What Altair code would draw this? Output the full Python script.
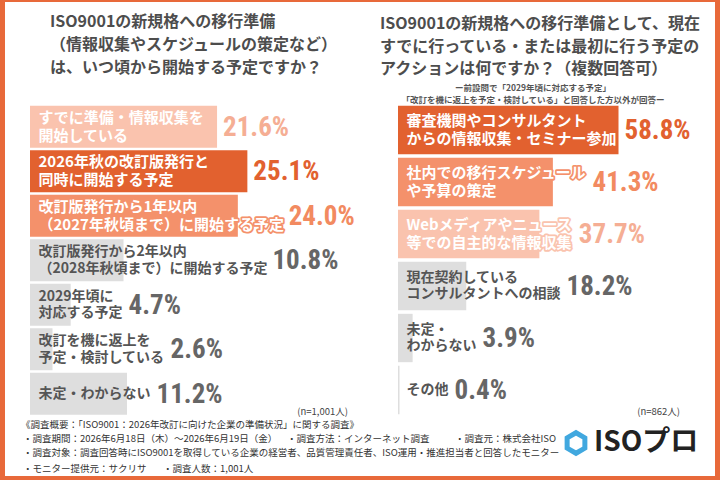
import altair as alt
import pandas as pd

# ---- data -------------------------------------------------------------
q1_labels = [
    "すでに準備・情報収集を\n開始している",
    "2026年秋の改訂版発行と\n同時に開始する予定",
    "改訂版発行から1年以内\n（2027年秋頃まで）に開始する予定",
    "改訂版発行から2年以内\n（2028年秋頃まで）に開始する予定",
    "2029年頃に\n対応する予定",
    "改訂を機に返上を\n予定・検討している",
    "未定・わからない",
]
q1_values = [21.6, 25.1, 24.0, 10.8, 4.7, 2.6, 11.2]

q2_labels = [
    "審査機関やコンサルタント\nからの情報収集・セミナー参加",
    "社内での移行スケジュール\nや予算の策定",
    "Webメディアやニュース\n等での自主的な情報収集",
    "現在契約している\nコンサルタントへの相談",
    "未定・\nわからない",
    "その他",
]
q2_values = [58.8, 41.3, 37.7, 18.2, 3.9, 0.4]

q1_title = "ISO9001の新規格への移行準備\n（情報収集やスケジュールの策定など）\nは、いつ頃から開始する予定ですか？"
q2_title = "ISO9001の新規格への移行準備として、現在\nすでに行っている・または最初に行う予定の\nアクションは何ですか？（複数回答可）"
q2_note = "ー前設問で「2029年頃に対応する予定」\n「改訂を機に返上を予定・検討している」と回答した方以外が回答ー"
q1_n = "(n=1,001人)"
q2_n = "(n=862人)"

footer_rows = [
    ("《調査概要：「ISO9001：2026年改訂に向けた企業の準備状況」に関する調査》", 21, 425),
    ("・調査期間：2026年6月18日（木）～2026年6月19日（金）", 23, 439),
    ("・調査方法：インターネット調査", 287, 439),
    ("・調査元：株式会社ISO", 455, 439),
    ("・調査対象：調査回答時にISO9001を取得している企業の経営者、品質管理責任者、ISO運用・推進担当者と回答したモニター", 23, 453),
    ("・モニター提供元：サクリサ", 23, 469),
    ("・調査人数：1,001人", 163, 469),
]
logo_text = "ISOプロ"

# ---- styling ----------------------------------------------------------
FRAME = "#E8693A"
BAR_FILLS = ["#E2612F", "#F4916B", "#FAC3AE"]
VAL_COLORS = ["#E2612F", "#F28A60", "#F5AE94"]
GRAY_BAR = "#DEDEDE"
GRAY_TEXT = "#555555"
GRAY_VAL = "#666666"
JP = "Noto Sans CJK JP"
NUM = "'Roboto Condensed', 'DejaVu Sans Condensed', 'Liberation Sans Narrow', Roboto, sans-serif"
TOP_SIZE, TOP_LH = 15, 18
REST_SIZE, REST_LH = 14, 16.5


def em_width(ch):
    if ord(ch) < 128:
        if ch.isdigit():
            return 0.57
        if ch == "W":
            return 0.95
        if ch.isupper():
            return 0.65
        if ch.islower():
            return 0.57
        return 0.35
    return 1.0


def text_width(s, size):
    return max(sum(em_width(c) for c in line) for line in s.split("\n")) * size


def panel_tables(labels, values, ppu, pad):
    order = sorted(range(len(values)), key=lambda i: -values[i])
    rank = {i: r for r, i in enumerate(order)}
    rows, lines = [], []
    for i, (lab, v) in enumerate(zip(labels, values)):
        top = rank[i] < 3
        fs = TOP_SIZE if top else REST_SIZE
        fill = BAR_FILLS[rank[i]] if top else GRAY_BAR
        # value label sits after whichever ends later: the bar or its caption
        end_px = max(v * ppu, pad + text_width(lab, fs)) + 6
        rows.append({
            "label": lab,
            "value": v,
            "pct": f"{v:.1f}%",
            "vcolor": VAL_COLORS[rank[i]] if top else GRAY_VAL,
            "fill": fill,
            "vpos": end_px / ppu,
        })
        parts = lab.split("\n")
        for j, part in enumerate(parts):
            lines.append({"label": lab, "line": part, "n": len(parts), "j": j,
                          "top": top, "fill": fill})
    return pd.DataFrame(rows), pd.DataFrame(lines)


def caption_layers(lines_df, y, x):
    """Bar captions, one text per line, stacked around the band centre."""
    layers = []
    base = alt.Chart(lines_df)
    for top in (True, False):
        size, lh = (TOP_SIZE, TOP_LH) if top else (REST_SIZE, REST_LH)
        for n, j, dy in [(1, 0, 0), (2, 0, -lh / 2), (2, 1, lh / 2)]:
            cond = f"{'datum.top' if top else '!datum.top'} && datum.n == {n} && datum.j == {j}"
            sub = base.transform_filter(cond)
            common = dict(font=JP, fontSize=size, fontWeight="bold",
                          align="left", baseline="middle", dy=dy)
            if top:
                layers.append(sub.mark_text(strokeWidth=3.5, strokeJoin="round",
                                            **common).encode(
                    x=x, y=y, text="line:N",
                    fill=alt.Fill("fill:N", scale=None),
                    stroke=alt.Stroke("fill:N", scale=None),
                ))
                layers.append(sub.mark_text(color="white", **common).encode(
                    x=x, y=y, text="line:N"))
            else:
                layers.append(sub.mark_text(color=GRAY_TEXT, **common).encode(
                    x=x, y=y, text="line:N"))
    return layers


def panel(labels, values, x0, ppu, xmax, y_range, pad_inner, pad_outer):
    pad = 8.5
    df, lines_df = panel_tables(labels, values, ppu, pad)
    xs = alt.Scale(domain=[0, xmax], range=[x0, x0 + xmax * ppu])
    ys = alt.Scale(domain=labels, range=y_range,
                   paddingInner=pad_inner, paddingOuter=pad_outer)
    y = alt.Y("label:N", scale=ys, axis=None, sort=labels)
    base = alt.Chart(df)

    bars = base.mark_bar().encode(
        x=alt.X("value:Q", scale=xs, axis=None),
        y=y,
        fill=alt.Fill("fill:N", scale=None),
    )
    captions = caption_layers(lines_df, y, alt.value(x0 + pad))
    vals = base.mark_text(font=NUM, fontSize=27, fontWeight="bold",
                          align="left", baseline="middle", dy=1).encode(
        x=alt.X("vpos:Q", scale=xs, axis=None),
        y=y,
        text="pct:N",
        fill=alt.Fill("vcolor:N", scale=None),
    )
    return alt.layer(bars, *captions, vals)


left = panel(q1_labels, q1_values, 30, 8.66, 40, [104.5, 416], 0.06, 0.03)
right = panel(q2_labels, q2_values, 398, 3.75, 80, [104, 416], 0.07, 0.035)

one = pd.DataFrame({"k": [0]})

card = alt.Chart(one).mark_rect(color="white").encode(
    x=alt.value(5), x2=alt.value(715), y=alt.value(2), y2=alt.value(476)
)


def label(text, x, y, size, align="left", weight="normal", color="#333333",
          line_height=None, font=JP):
    """Text whose first line is centred on y; further lines follow below."""
    kw = dict(font=font, fontSize=size, fontWeight=weight, align=align,
              baseline="middle", color=color, lineBreak="\n", text=text)
    if line_height:
        kw["lineHeight"] = line_height
    return alt.Chart(one).mark_text(**kw).encode(x=alt.value(x), y=alt.value(y))


titles = [
    label(q1_title, 50, 22, 16, weight="bold", color="#4D4D4D", line_height=23),
    label(q2_title, 380, 24, 16, weight="bold", color="#4D4D4D", line_height=22.5),
    label(q2_note, 533, 88, 8.5, align="center", weight="bold", color="#555555",
          line_height=12),
    label(q1_n, 348, 412, 9.5, align="right", color="#444444"),
    label(q2_n, 680, 412, 9.5, align="right", color="#444444"),
]
footer = [label(t, x, y, 9.5, color="#333333") for t, x, y in footer_rows]

hexagon = alt.Chart(one).mark_point(
    shape="M0,-1L0.866,-0.5L0.866,0.5L0,1L-0.866,0.5L-0.866,-0.5Z",
    size=420, filled=False, stroke="#41A8DF", strokeWidth=5, opacity=1,
).encode(x=alt.value(576), y=alt.value(443))
logo = label(logo_text, 594, 443, 28, weight="bold", color="#222222")

chart = alt.layer(
    card, *titles, *footer, hexagon, logo, left, right
).resolve_scale(
    x="independent", y="independent"
).properties(
    width=720, height=480, background=FRAME,
    autosize=alt.AutoSizeParams(type="none"), padding=0,
).configure_view(stroke=None)

chart.save("out.html", embed_options={"renderer": "svg", "actions": False})
